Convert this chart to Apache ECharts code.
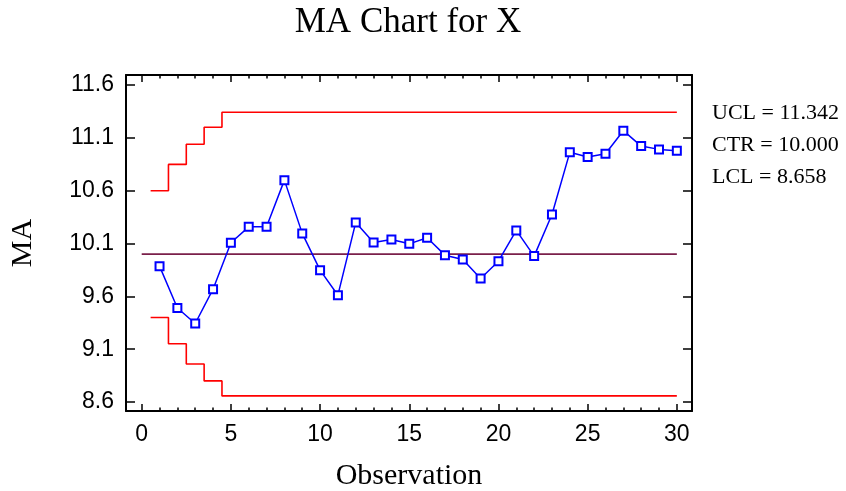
<!DOCTYPE html>
<html>
<head>
<meta charset="utf-8">
<script src="https://cdn.jsdelivr.net/npm/echarts@6/dist/echarts.min.js"></script>
<style>
  html, body { margin: 0; padding: 0; background: #fff; }
  #chart { width: 846px; height: 491px; }
</style>
</head>
<body>
<div id="chart"></div>
<script>
  // data
  var observations = [1, 2, 3, 4, 5, 6, 7, 8, 9, 10, 11, 12, 13, 14, 15,
                      16, 17, 18, 19, 20, 21, 22, 23, 24, 25, 26, 27, 28, 29, 30];
  var maValues = [9.886, 9.490, 9.343, 9.668, 10.107, 10.258, 10.258, 10.700, 10.196, 9.848,
                  9.611, 10.300, 10.110, 10.139, 10.097, 10.154, 9.990, 9.949, 9.769, 9.933,
                  10.224, 9.981, 10.375, 10.963, 10.918, 10.950, 11.168, 11.022, 10.991, 10.978];
  var uclSteps = [10.600, 10.849, 11.040, 11.200, 11.342];
  var lclSteps = [9.400, 9.151, 8.960, 8.800, 8.658];
  var centerValue = 10.000;
  var xTicks = [0, 5, 10, 15, 20, 25, 30];
  var yTicks = [8.6, 9.1, 9.6, 10.1, 10.6, 11.1, 11.6];

  var serif = '"Liberation Serif", "Times New Roman", serif';
  var sans = '"Liberation Sans", Arial, sans-serif';
  var xMin = -0.88, xMax = 30.85;
  var yMin = 8.515, yMax = 11.695;

  var xMinor = [];
  for (var i = 0; i <= 30; i++) xMinor.push(i);

  var lastObs = observations[observations.length - 1];

  function stepData(steps) {
    var d = [];
    for (var k = 0; k < steps.length; k++) {
      d.push([observations[k] - 0.5, steps[k]]);
    }
    d.push([lastObs, steps[steps.length - 1]]);
    return d;
  }

  function xAxisOf(pos, ticks, len, withLine, withLabel) {
    var ax = {
      type: 'value', position: pos, min: xMin, max: xMax,
      axisLine: { show: withLine, onZero: false, lineStyle: { color: '#000', width: 2 } },
      axisTick: { show: true, inside: true, length: len, customValues: ticks,
                  lineStyle: { color: '#000', width: 1.5 } },
      axisLabel: { show: withLabel, customValues: xTicks, margin: 12,
                   fontFamily: sans, fontSize: 23, color: '#000' },
      splitLine: { show: false }
    };
    if (withLabel) {
      ax.name = 'Observation';
      ax.nameLocation = 'middle';
      ax.nameGap = 50;
      ax.nameTextStyle = { fontFamily: serif, fontSize: 30, color: '#000' };
    }
    return ax;
  }

  function yAxisOf(pos, withLabel) {
    var ax = {
      type: 'value', position: pos, min: yMin, max: yMax,
      axisLine: { show: true, onZero: false, lineStyle: { color: '#000', width: 2 } },
      axisTick: { show: true, inside: true, length: 9, customValues: yTicks,
                  lineStyle: { color: '#000', width: 1.5 } },
      axisLabel: { show: withLabel, customValues: yTicks, margin: 12,
                   fontFamily: sans, fontSize: 23, color: '#000',
                   formatter: function (v) { return v.toFixed(1); } },
      splitLine: { show: false }
    };
    if (withLabel) {
      ax.name = 'MA';
      ax.nameLocation = 'middle';
      ax.nameGap = 88;
      ax.nameTextStyle = { fontFamily: serif, fontSize: 30, color: '#000' };
    }
    return ax;
  }

  var chart = echarts.init(document.getElementById('chart'));

  var option = {
    backgroundColor: '#fff',
    animation: false,
    grid: { left: 126, right: 154, top: 75, bottom: 80, containLabel: false, outerBoundsMode: 'none' },
    xAxis: [
      xAxisOf('bottom', xTicks, 7, true, true),
      xAxisOf('bottom', xMinor, 3.5, false, false),
      xAxisOf('top', xTicks, 7, true, false),
      xAxisOf('top', xMinor, 3.5, false, false)
    ],
    yAxis: [
      yAxisOf('left', true),
      yAxisOf('right', false)
    ],
    graphic: [
      { type: 'text', x: 408, y: 23,
        style: { text: 'MA Chart for X', font: '35px ' + serif, fill: '#000',
                 align: 'center', verticalAlign: 'middle' } },
      { type: 'text', x: 712, y: 113,
        style: { text: 'UCL = ' + uclSteps[uclSteps.length - 1].toFixed(3), font: '22px ' + serif,
                 fill: '#000', verticalAlign: 'middle' } },
      { type: 'text', x: 712, y: 145,
        style: { text: 'CTR = ' + centerValue.toFixed(3), font: '22px ' + serif,
                 fill: '#000', verticalAlign: 'middle' } },
      { type: 'text', x: 712, y: 177,
        style: { text: 'LCL = ' + lclSteps[lclSteps.length - 1].toFixed(3), font: '22px ' + serif,
                 fill: '#000', verticalAlign: 'middle' } }
    ],
    series: [
      {
        name: 'UCL', type: 'line', step: 'end', data: stepData(uclSteps),
        symbol: 'none', lineStyle: { color: '#ff0000', width: 1.6 }, z: 2
      },
      {
        name: 'LCL', type: 'line', step: 'end', data: stepData(lclSteps),
        symbol: 'none', lineStyle: { color: '#ff0000', width: 1.6 }, z: 2
      },
      {
        name: 'CTR', type: 'line', data: [[0, centerValue], [lastObs, centerValue]],
        symbol: 'none', lineStyle: { color: '#7a1f4a', width: 1.8 }, z: 2
      },
      {
        name: 'MA', type: 'line',
        data: maValues.map(function (v, i) { return [observations[i], v]; }),
        symbol: 'emptyRect', symbolSize: 8,
        itemStyle: { color: '#0000ff', borderColor: '#0000ff', borderWidth: 1.4 },
        lineStyle: { color: '#0000ff', width: 1.5 }, z: 5
      }
    ]
  };

  chart.setOption(option);
</script>
</body>
</html>
